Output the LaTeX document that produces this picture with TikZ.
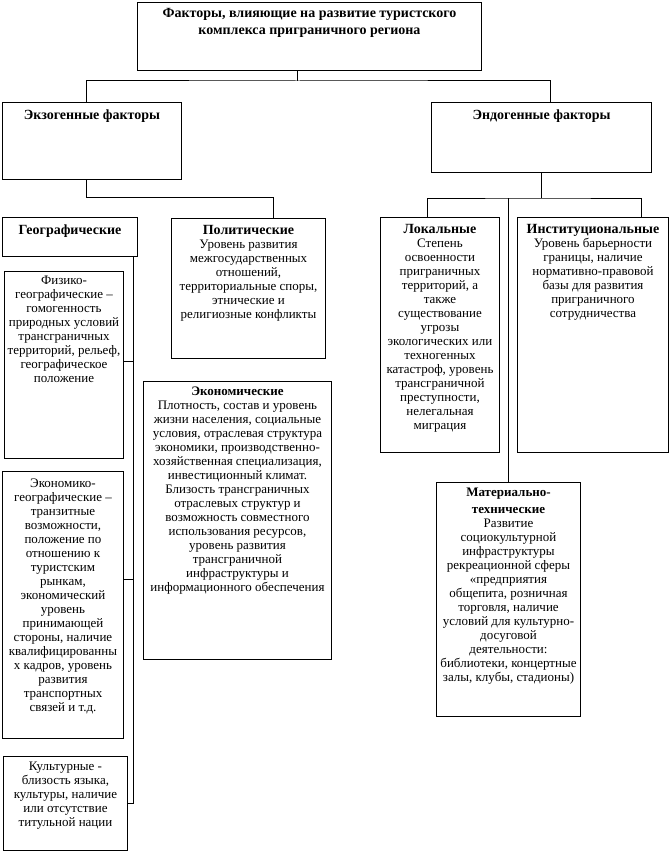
\documentclass[tikz,border=0pt]{standalone}
\usepackage{fontspec}
\setmainfont{Liberation Serif}
\usetikzlibrary{positioning,calc}
\tikzset{
  blok/.style={rectangle, draw=black, line width=1pt, anchor=north west, inner sep=0pt},
  zag/.style={align=center, anchor=north, inner sep=0pt, font=\fontsize{14}{17}\selectfont\bfseries},
  tekst/.style={align=center, anchor=north, inner sep=0pt, font=\fontsize{13}{14}\selectfont},
  linia/.style={draw=black, line width=1pt},
}
\newcommand{\zagol}[1]{{\fontsize{14}{14}\selectfont\bfseries #1}}
\newcommand{\zagolm}[1]{{\fontsize{13}{14}\selectfont\bfseries #1}}

\begin{document}
\begin{tikzpicture}[x=1pt, y=-1pt]
  \useasboundingbox (0,0) rectangle (669,856);
  % верхний уровень
  \node[blok, minimum width=344pt, minimum height=68pt] (glav) at (137,2) {};
  \node[zag, below=6pt of glav.north] (glav-t) {Факторы, влияющие на развитие туристского\\комплекса приграничного региона};
  \node[blok, minimum width=179pt, minimum height=77pt] (ekzo) at (2,102) {};
  \node[zag, below=8pt of ekzo.north] (ekzo-t) {Экзогенные факторы};
  \node[blok, minimum width=220pt, minimum height=70pt] (endo) at (431,102) {};
  \node[zag, below=8pt of endo.north] (endo-t) {Эндогенные факторы};

  % экзогенные факторы
  \node[blok, minimum width=135pt, minimum height=39pt] (geo) at (2,217) {};
  \node[zag, below=8pt of geo.north] (geo-t) {Географические};
  \node[blok, minimum width=154pt, minimum height=140pt] (polit) at (171,218) {};
  \node[tekst, below=7pt of polit.north] (polit-t) {\zagol{Политические}\\Уровень развития\\межгосударственных\\отношений,\\территориальные споры,\\этнические и\\религиозные конфликты};
  \node[blok, minimum width=119pt, minimum height=187pt] (fiz) at (4,271) {};
  \node[tekst, below=5pt of fiz.north] (fiz-t) {Физико-\\географические –\\гомогенность\\природных условий\\трансграничных\\территорий, рельеф,\\географическое\\положение};
  \node[blok, minimum width=121pt, minimum height=267pt] (ekgeo) at (2,471) {};
  \node[tekst, below=8pt of ekgeo.north] (ekgeo-t) {Экономико-\\географические –\\транзитные\\возможности,\\положение по\\отношению к\\туристским\\рынкам,\\экономический\\уровень\\принимающей\\стороны, наличие\\квалифицированны\\х кадров,  уровень\\развития\\транспортных\\связей и т.д.};
  \node[blok, minimum width=124pt, minimum height=94pt] (kult) at (3,756) {};
  \node[tekst, below=6pt of kult.north] (kult-t) {Культурные -\\близость языка,\\культуры, наличие\\или отсутствие\\титульной нации};
  \node[blok, minimum width=188pt, minimum height=278pt] (ekon) at (143,381) {};
  \node[tekst, below=6pt of ekon.north] (ekon-t) {\zagolm{Экономические}\\Плотность, состав и уровень\\жизни населения, социальные\\условия, отраслевая структура\\экономики, производственно-\\хозяйственная специализация,\\инвестиционный климат.\\Близость трансграничных\\отраслевых структур и\\возможность совместного\\использования ресурсов,\\уровень развития\\трансграничной\\инфраструктуры и\\информационного обеспечения};

  % эндогенные факторы
  \node[blok, minimum width=119pt, minimum height=235pt] (lok) at (380,217) {};
  \node[tekst, below=7pt of lok.north] (lok-t) {\zagol{Локальные}\\Степень\\освоенности\\приграничных\\территорий, а\\также\\существование\\угрозы\\экологических или\\техногенных\\катастроф, уровень\\трансграничной\\преступности,\\нелегальная\\миграция};
  \node[blok, minimum width=151pt, minimum height=235pt] (inst) at (517,217) {};
  \node[tekst, below=7pt of inst.north] (inst-t) {\zagol{Институциональные}\\Уровень барьерности\\границы, наличие\\нормативно-правовой\\базы для развития\\приграничного\\сотрудничества};
  \node[blok, minimum width=144pt, minimum height=234pt] (mat) at (436,482) {};
  \node[tekst, below=6pt of mat.north] (mat-t) {\zagolm{Материально-}\\[3pt]\zagolm{технические}\\Развитие\\социокультурной\\инфраструктуры\\рекреационной сферы\\«предприятия\\общепита, розничная\\торговля, наличие\\условий для культурно-\\досуговой\\деятельности:\\библиотеки, концертные\\залы, клубы, стадионы)};

  % связи
  \draw[linia] ([xshift=-12pt]glav.south) -- ++(0,10) coordinate (r1);
  \draw[linia] ([xshift=-5.5pt]ekzo.north) |- (r1) -| ([xshift=9pt]endo.north);
  \draw[linia] ([xshift=-5.5pt]ekzo.south) -- ++(0,17) -| ([xshift=25pt]polit.north);
  \draw[linia] (endo.south) -- ++(0,25) coordinate (r2);
  \draw[linia] ([xshift=-12.5pt]lok.north) |- (r2) -| ([xshift=48.5pt]inst.north);
  \draw[linia] (mat.north) -- (mat.north |- r2);
  \coordinate (g1) at ([xshift=-5pt]geo.south east);
  \draw[linia] (g1) |- (kult.east);
  \draw[linia] ([yshift=4pt]fiz.east) -- ([yshift=4pt]fiz.east -| g1);
  \draw[linia] ([yshift=26pt]ekgeo.east) -- ([yshift=26pt]ekgeo.east -| g1);
\end{tikzpicture}
\end{document}
